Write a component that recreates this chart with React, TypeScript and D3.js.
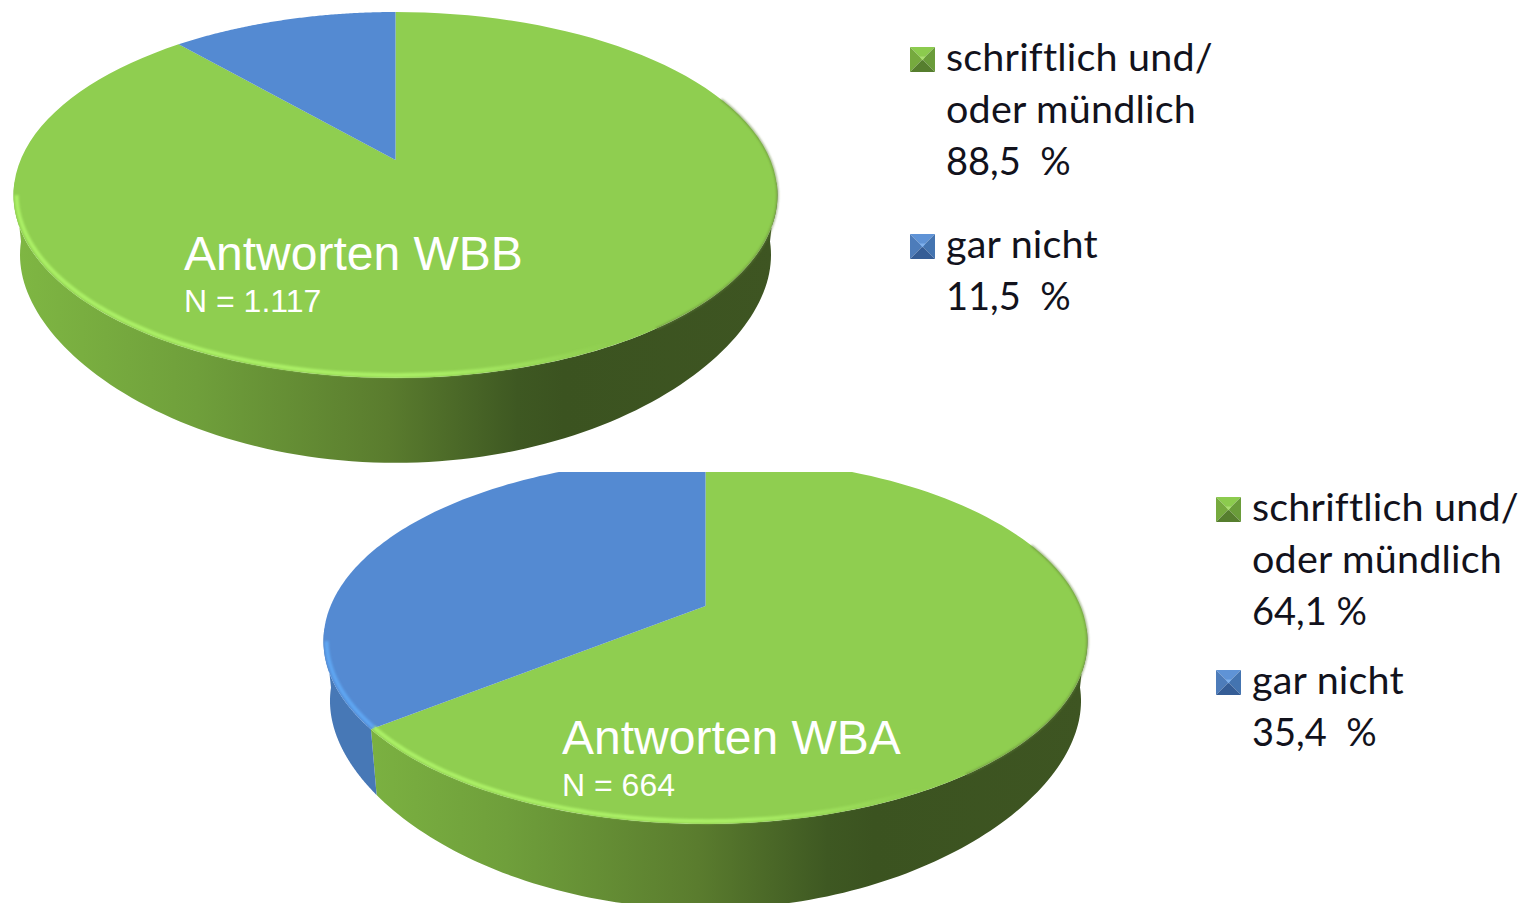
import { useId } from "react";
import * as d3 from "d3";

// values as printed in the legends
const seriesNames = ["schriftlich und/ oder mündlich", "gar nicht"];
const wbbValues = [88.5, 11.5];
const wbaValues = [64.1, 35.4];
const wbbLabels = [["schriftlich und/", "oder mündlich", "88,5  %"], ["gar nicht", "11,5  %"]];
const wbaLabels = [["schriftlich und/", "oder mündlich", "64,1 %"], ["gar nicht", "35,4  %"]];
const sliceColors = ["#8fce50", "#548ad2"];
const rimColors = ["#abf066", "#5ea6f2"];
const sideStops = [
  [0, "#7fb743"],
  [0.24, "#6f9f3b"],
  [0.49, "#5a7c2e"],
  [0.66, "#3e5822"],
  [0.72, "#3b5320"],
  [1, "#3e5522"],
];

const RX = 382;
const TILT = 0.191; // perspective of the disc
const BACK = 148; // apex to far edge, px
const MID = 35; // apex to middle of the ellipse, px
const RY = 183;

function project(angle: number, cx: number, apexY: number, scale = 1) {
  const b = BACK * (1 + TILT);
  const a = RX * Math.sqrt(1 - TILT * TILT) * scale;
  const X = Math.sin(angle);
  const Y = Math.cos(angle);
  const w = 1 + TILT * Y;
  return [cx + (a * X) / w, apexY - (b * scale * Y) / w] as [number, number];
}

function rimPoints(a0: number, a1: number, cx: number, apexY: number, scale = 1) {
  return d3.range(0, 121).map((i) => project(a0 + ((a1 - a0) * i) / 120, cx, apexY, scale));
}

// bottom edge of the wall: the wall gets thicker towards the viewer
function wallPoints(a0: number, a1: number, cx: number, apexY: number) {
  return rimPoints(a0, a1, cx, apexY).map(([x, y]) => {
    const f = Math.max(0, (y - apexY - MID) / RY);
    return [cx + (x - cx) * 0.983, y + 60 + 25 * f * f] as [number, number];
  });
}

const line = d3.line();

function Pie3D({ values, cx, apexY, clipTop, title, sub, textX, textY }: {
  values: number[]; cx: number; apexY: number; clipTop: number; title: string; sub: string; textX: number; textY: number;
}) {
  const id = useId().replace(/:/g, "");
  const arcs = d3.pie<number>().sort(null)(values);
  const wallStart = Math.PI / 2 + 0.12;
  const wallEnd = (3 * Math.PI) / 2 - 0.12;

  return (
    <g clipPath={`url(#${id}-clip)`}>
      <defs>
        <clipPath id={`${id}-clip`}>
          <rect x={cx - RX - 20} y={clipTop} width={RX * 2 + 40} height={903 - clipTop} />
        </clipPath>
        <linearGradient id={`${id}-side`} gradientUnits="userSpaceOnUse" x1={cx - RX} x2={cx + RX} y1={0} y2={0}>
          {sideStops.map(([o, c]) => <stop key={o} offset={o} stopColor={c as string} />)}
        </linearGradient>
        {rimColors.map((c, i) => (
          <linearGradient key={c} id={`${id}-rim${i}`} gradientUnits="userSpaceOnUse" x1={cx - RX} x2={cx + RX} y1={0} y2={0}>
            <stop offset={0} stopColor={c} />
            <stop offset={0.55} stopColor={c} />
            <stop offset={0.78} stopColor={c} stopOpacity={0} />
          </linearGradient>
        ))}
        <filter id={`${id}-soft`} filterUnits="userSpaceOnUse" x={cx - RX - 20} y={clipTop - 20} width={RX * 2 + 40} height={500}>
          <feGaussianBlur stdDeviation={0.9} />
        </filter>
      </defs>
      {arcs.map((d, i) => {
        const from = Math.max(d.startAngle, wallStart);
        const to = Math.min(d.endAngle, wallEnd);
        if (to <= from) return null;
        const top = rimPoints(from, to, cx, apexY);
        const bottom = wallPoints(from, to, cx, apexY).reverse();
        return (
          <path
            key={`side-${i}`}
            d={`${line(top)}L${line(bottom)!.slice(1)}Z`}
            fill={i === 0 ? `url(#${id}-side)` : "#4778b6"}
          />
        );
      })}
      {arcs.map((d, i) => {
        const rim = rimPoints(d.startAngle, d.endAngle, cx, apexY);
        return (
          <path
            key={`top-${i}`}
            d={`M${cx},${apexY}L${line(rim)!.slice(1)}Z`}
            fill={sliceColors[i]}
          />
        );
      })}
      {arcs.map((d, i) => {
        const from = Math.max(d.startAngle, Math.PI / 2 + 0.2);
        const to = Math.min(d.endAngle, (3 * Math.PI) / 2 - 0.2);
        if (to <= from) return null;
        return (
          <path
            key={`rim-${i}`}
            d={line(rimPoints(from, to, cx, apexY - 1, 0.992)) as string}
            fill="none"
            stroke={`url(#${id}-rim${i})`}
            strokeWidth={4}
            filter={`url(#${id}-soft)`}
          />
        );
      })}
      <path
        d={line(rimPoints(Math.PI * 0.38, Math.PI * 0.8, cx, apexY)) as string}
        fill="none"
        stroke="#5f7f38"
        strokeOpacity={0.7}
        strokeWidth={1.8}
        filter={`url(#${id}-soft)`}
      />
      <text x={textX} y={textY} fill="#fff" fontFamily="Liberation Sans" fontSize={48}>{title}</text>
      <text x={textX} y={textY + 42} fill="#fff" fontFamily="Liberation Sans" fontSize={32}>{sub}</text>
    </g>
  );
}

function LegendIcon({ x, y, index }: { x: number; y: number; index: number }) {
  const s = 25;
  const c = s / 2;
  const n = 3; // half size of the light centre
  const greens = ["#76aa3e", "#8ccb4e", "#567e2e", "#6a9c3a", "#aade70"];
  const blues = ["#4d7cba", "#5f93d6", "#355d96", "#4474b0", "#7fb0ec"];
  const col = index === 0 ? greens : blues;
  const p = (pts: number[][]) => (line(pts as [number, number][]) as string) + "Z";
  return (
    <g transform={`translate(${x},${y})`}>
      <path d={p([[0, 0], [s, 0], [c, c]])} fill={col[1]} />
      <path d={p([[0, 0], [c, c], [0, s]])} fill={col[0]} />
      <path d={p([[s, 0], [s, s], [c, c]])} fill={col[3]} />
      <path d={p([[0, s], [c, c], [s, s]])} fill={col[2]} />
      <path d={p([[c - n, c - n], [c + n, c - n], [c, c + 1]])} fill={col[4]} />
    </g>
  );
}

function Legend({ x, y, groups, groupGap }: { x: number; y: number; groups: string[][]; groupGap: number }) {
  let row = y;
  return (
    <g fontFamily="Lato" fill="#12121c">
      {groups.map((lines, g) => {
        const top = row;
        row += lines.length * 52 + groupGap;
        return (
          <g key={seriesNames[g]}>
            <LegendIcon x={x - 1} y={top - 24} index={g} />
            {lines.map((t, i) => (
              <text
                key={t}
                x={x + 35}
                y={top + i * 52}
                fontSize={/\d/.test(t) ? 38 : 39.5}
                letterSpacing={/\d/.test(t) ? 0 : 0.2}
                style={{ whiteSpace: "pre" }}
              >
                {t}
              </text>
            ))}
          </g>
        );
      })}
    </g>
  );
}

export default function App() {
  return (
    <svg
      width={1519}
      height={903}
      style={{ position: "absolute", left: 0, top: 0, background: "#fff" }}
    >
      <Pie3D values={wbbValues} cx={395.5} apexY={160} clipTop={12} title="Antworten WBB" sub="N = 1.117" textX={184} textY={270} />
      <Pie3D values={wbaValues} cx={705.5} apexY={606} clipTop={472} title="Antworten WBA" sub="N = 664" textX={562} textY={754} />
      <Legend x={911} y={71} groups={wbbLabels} groupGap={31} />
      <Legend x={1217} y={521} groups={wbaLabels} groupGap={17} />
    </svg>
  );
}
